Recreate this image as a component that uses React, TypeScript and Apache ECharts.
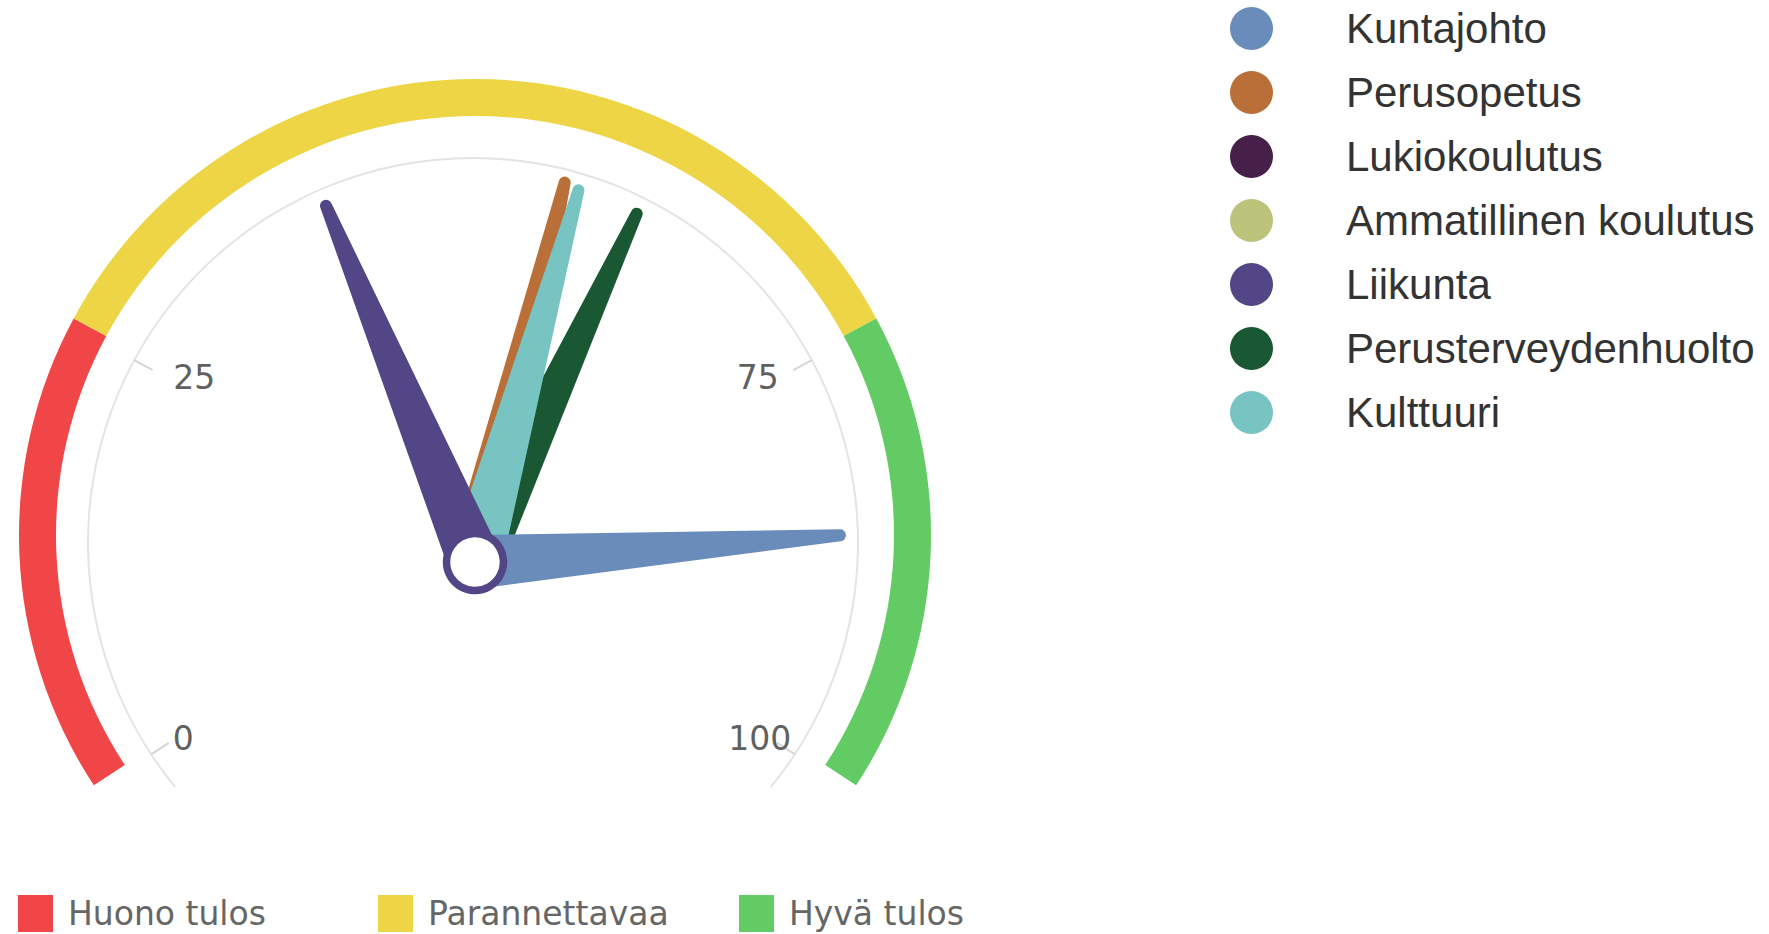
import React, { useEffect, useRef } from 'react';
import * as echarts from 'echarts';

// ---------- data ----------
const seriesNames = [
  'Kuntajohto',
  'Perusopetus',
  'Lukiokoulutus',
  'Ammatillinen koulutus',
  'Liikunta',
  'Perusterveydenhuolto',
  'Kulttuuri',
];
const seriesValues: (number | null)[] = [84.8, 55.4, null, null, 40.8, 60.1, 56.3];
const seriesColors = ['#6a8cba', '#b96f37', '#47204a', '#bcc47b', '#534686', '#1a5733', '#77c4c3'];

const bandNames = ['Huono tulos', 'Parannettavaa', 'Hyvä tulos'];
const bandLimits = [0, 25, 75, 100];
const bandColors = ['#f04648', '#edd545', '#63cb63'];

const axisMin = 0;
const axisMax = 100;
const tickLabels = [0, 25, 75, 100];

// ---------- styles ----------
const START = 213.3;
const END = -33.3;
const angleOf = (v: number) => START - ((v - axisMin) / (axisMax - axisMin)) * (START - END);

const drawOrder = ['Lukiokoulutus', 'Ammatillinen koulutus', 'Perusopetus', 'Perusterveydenhuolto', 'Kulttuuri', 'Kuntajohto', 'Liikunta'];
const needleLength: Record<string, number> = {
  Kuntajohto: 372,
  Perusopetus: 396,
  Kulttuuri: 392,
  Perusterveydenhuolto: 390,
  Liikunta: 392,
  Lukiokoulutus: 390,
  'Ammatillinen koulutus': 390,
};
const NEEDLE = 'path://M21,6 A6,6 0 0 1 33,6 L54,394 L0,394 Z';
const PIVOT = [475, 562];
const BAND_CENTER = [475, 535];
const SCALE_CENTER = [473, 543];
// label rings: outer pair (0 / 100) and inner pair (25 / 75)
const LABEL_RINGS = [
  { center: [482, 535], radius: 370 },
  { center: [476, 541], radius: 344 },
];

const hidden = {
  axisLine: { show: false, lineStyle: { width: 1 } },
  axisTick: { show: false },
  splitLine: { show: false, length: 0, distance: 0 },
  axisLabel: { show: false },
  pointer: { show: false },
  anchor: { show: false },
  title: { show: false },
  detail: { show: false },
  progress: { show: false },
};

export default function App() {
  const ref = useRef<HTMLDivElement>(null);
  useEffect(() => {
    if (!ref.current) return;
    const chart = echarts.init(ref.current, undefined, { renderer: 'svg' });

    const bandSeries = bandNames.map((name, i) => ({
      type: 'gauge',
      name,
      center: BAND_CENTER,
      radius: 456,
      startAngle: angleOf(bandLimits[i]),
      endAngle: angleOf(bandLimits[i + 1]),
      min: bandLimits[i],
      max: bandLimits[i + 1],
      ...hidden,
      axisLine: { show: true, lineStyle: { width: 37, color: [[1, bandColors[i]]] } },
      itemStyle: { color: bandColors[i] },
      data: [],
      silent: true,
    }));

    const lineSeries = {
      type: 'gauge',
      center: SCALE_CENTER,
      radius: 386,
      startAngle: START + 6,
      endAngle: END - 6,
      ...hidden,
      axisLine: { show: true, lineStyle: { width: 2, color: [[1, '#e4e4e4']] } },
      data: [],
      silent: true,
    };

    // tick marks: segments between consecutive labelled ticks that are one step apart
    const tickSegments = [
      [tickLabels[0], tickLabels[1]],
      [tickLabels[2], tickLabels[3]],
    ];
    const tickSeries = tickSegments.map(([a, b]) => ({
      type: 'gauge',
      center: SCALE_CENTER,
      radius: 385,
      startAngle: angleOf(a),
      endAngle: angleOf(b),
      min: a,
      max: b,
      splitNumber: 1,
      ...hidden,
      splitLine: { show: true, length: 21, distance: -1, lineStyle: { color: '#d6d6d6', width: 2 } },
      data: [],
      silent: true,
    }));

    const labelPairs = [
      [tickLabels[0], tickLabels[3]],
      [tickLabels[1], tickLabels[2]],
    ];
    const labelSeries = labelPairs.map(([a, b], k) => ({
      type: 'gauge',
      center: LABEL_RINGS[k].center,
      radius: LABEL_RINGS[k].radius,
      startAngle: angleOf(a),
      endAngle: angleOf(b),
      min: a,
      max: b,
      splitNumber: 1,
      ...hidden,
      axisLabel: {
        show: true,
        distance: 0,
        color: '#606060',
        fontSize: 33,
        fontFamily: '"DejaVu Sans", sans-serif',
        formatter: (v: number) => String(Math.round(v)),
      },
      data: [],
      silent: true,
    }));

    const needleSeries = drawOrder.map((name) => {
      const i = seriesNames.indexOf(name);
      const v = seriesValues[i];
      return {
        type: 'gauge',
        name,
        center: PIVOT,
        radius: 400,
        startAngle: START,
        endAngle: END,
        min: axisMin,
        max: axisMax,
        ...hidden,
        pointer: {
          show: true,
          icon: NEEDLE,
          width: 54,
          length: needleLength[name],
          offsetCenter: [0, 0],
          itemStyle: { color: seriesColors[i] },
        },
        itemStyle: { color: seriesColors[i] },
        data: v == null ? [] : [{ value: v, name }],
      };
    });

    const anchorSeries = {
      type: 'gauge',
      center: PIVOT,
      radius: 400,
      startAngle: START,
      endAngle: END,
      ...hidden,
      anchor: {
        show: true,
        showAbove: true,
        icon: 'circle',
        size: 57,
        itemStyle: { color: '#ffffff', borderColor: '#534686', borderWidth: 7.5 },
      },
      data: [],
      silent: true,
    };

    const bandLegendLeft = [18, 378, 739];

    chart.setOption({
      animation: false,
      backgroundColor: '#ffffff',
      legend: [
        {
          data: seriesNames.map((n, i) => ({ name: n, itemStyle: { color: seriesColors[i] } })),
          orient: 'vertical',
          left: 1230,
          top: 7,
          padding: 0,
          itemWidth: 43,
          itemHeight: 43,
          itemGap: 21,
          icon: 'circle',
          selectedMode: false,
          textStyle: {
            fontFamily: '"Liberation Sans", Arial, sans-serif',
            fontSize: 42,
            color: '#333333',
            padding: [0, 0, 0, 68],
          },
        },
        ...bandNames.map((n, i) => ({
          data: [{ name: n, itemStyle: { color: bandColors[i] } }],
          left: bandLegendLeft[i],
          top: 895,
          padding: 0,
          itemWidth: 35,
          itemHeight: 37,
          icon: 'rect',
          selectedMode: false,
          textStyle: {
            fontFamily: '"DejaVu Sans", sans-serif',
            fontSize: 33,
            color: '#666666',
            padding: [0, 0, 0, 10],
          },
        })),
      ],
      series: [...bandSeries, lineSeries, ...tickSeries, ...labelSeries, ...needleSeries, anchorSeries],
    });

    return () => chart.dispose();
  }, []);

  return (
    <div
      ref={ref}
      style={{ position: 'absolute', left: 0, top: 0, width: 1769, height: 934, background: '#fff' }}
    />
  );
}
